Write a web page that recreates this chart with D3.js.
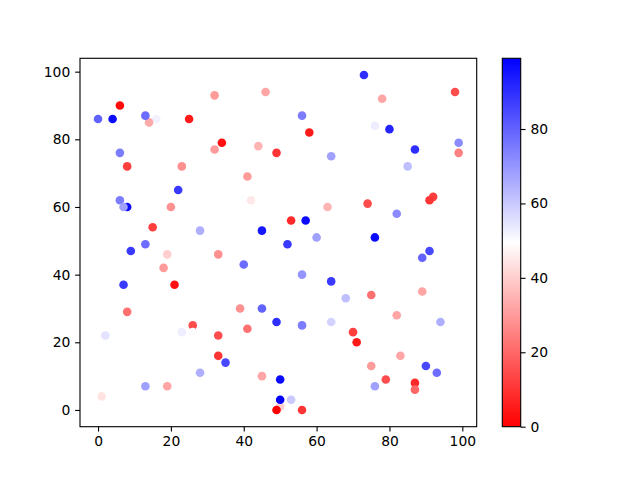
<!DOCTYPE html>
<html>
<head>
<meta charset="utf-8">
<script src="https://cdn.jsdelivr.net/npm/d3@7"></script>
<style>
  body { margin: 0; background: #fff; }
  text { font-family: "DejaVu Sans", sans-serif; }
</style>
</head>
<body>
<script>
  // scatter values
  const xs = [6, 0, 4, 16, 14, 13, 25, 32, 46, 34, 32, 44, 49, 6, 8, 23, 41, 22, 6, 8, 7, 20, 42, 15, 28, 45, 13,
    73, 78, 98, 56, 76, 80, 58, 64, 87, 99, 99, 85, 92, 91, 63, 74, 82, 53, 57, 60, 76, 52,
    9, 19, 33, 18, 40, 7, 21, 8, 39, 45, 49, 41, 26, 2, 23, 26, 33, 33, 35, 28, 45, 13, 19, 1, 50, 50, 50, 49,
    91, 89, 56, 64, 68, 75, 89, 82, 94, 56, 64, 70, 71, 83, 75, 90, 93, 79, 87, 87, 76, 53, 56];
  const ys = [90, 86, 86, 86, 85, 87, 86, 93, 94, 79, 77, 78, 76, 76, 72, 72, 69, 65, 62, 60, 60, 60, 62, 54, 53, 53, 49,
    99, 92, 94, 87, 84, 83, 82, 75, 77, 79, 76, 72, 63, 62, 60, 61, 58, 56, 56, 51, 51, 49,
    47, 46, 46, 42, 43, 37, 37, 29, 30, 30, 26, 24, 25, 22, 23, 23, 22, 16, 14, 11, 10, 7, 7, 4, 1, 9, 3, 0,
    47, 45, 40, 38, 33, 34, 35, 28, 26, 25, 26, 23, 20, 16, 13, 13, 11, 9, 8, 6, 7, 3, 0];
  const cs = [2, 80, 97, 52, 33, 78, 5, 30, 32, 3, 30, 35, 10, 75, 12, 28, 30, 88, 75, 97, 68, 28, 45, 12, 65, 95, 78,
    90, 32, 15, 75, 53, 92, 5, 68, 90, 72, 25, 62, 12, 10, 35, 15, 72, 8, 97, 68, 97, 88,
    88, 40, 28, 30, 78, 88, 3, 22, 28, 80, 90, 22, 15, 55, 53, 50, 15, 10, 85, 65, 32, 68, 32, 44, 40, 97, 99, 0,
    85, 80, 70, 88, 62, 22, 32, 32, 65, 75, 58, 12, 5, 32, 30, 85, 78, 15, 8, 20, 68, 60, 10];
  const xTicks = [0, 20, 40, 60, 80, 100];
  const yTicks = [0, 20, 40, 60, 80, 100];
  const cTicks = [0, 20, 40, 60, 80];

  const W = 640, H = 480;
  const pt = 100 / 72;
  const plot = { left: 80, right: 476.7, top: 58.3, bottom: 426.7 };
  const cbar = { left: 502.3, right: 520.7 };

  const svg = d3.select("body").append("svg")
    .attr("width", W).attr("height", H)
    .attr("viewBox", `0 0 ${W} ${H}`);
  svg.append("rect").attr("width", W).attr("height", H).attr("fill", "#fff");

  const cMin = d3.min(cs), cMax = d3.max(cs);
  // bwr_r: red -> white -> blue
  const color = d3.scaleLinear()
    .domain([cMin, (cMin + cMax) / 2, cMax])
    .range(["#ff0000", "#ffffff", "#0000ff"]);

  const pad = (99 - 0) * 0.05;
  const x = d3.scaleLinear().domain([0 - pad, 99 + pad]).range([plot.left, plot.right]);
  const y = d3.scaleLinear().domain([0 - pad, 99 + pad]).range([plot.bottom, plot.top]);

  const pts = xs.map((v, i) => ({ x: v, y: ys[i], c: cs[i] }));

  svg.append("g")
    .selectAll("circle")
    .data(pts)
    .enter()
    .append("circle")
    .attr("cx", (d) => x(d.x))
    .attr("cy", (d) => y(d.y))
    .attr("r", 3.1 * pt)
    .attr("fill", (d) => color(d.c));

  const styleAxis = (g) => {
    g.select(".domain").remove();
    g.selectAll(".tick line").attr("stroke", "#000").attr("stroke-width", 0.8 * pt);
    g.selectAll(".tick text").attr("fill", "#000").attr("font-size", 10 * pt).attr("font-family", "DejaVu Sans");
  };

  svg.append("g")
    .attr("transform", `translate(0,${plot.bottom})`)
    .call(d3.axisBottom(x).tickValues(xTicks).tickSize(3.5 * pt).tickPadding(3.5 * pt))
    .call(styleAxis);

  svg.append("g")
    .attr("transform", `translate(${plot.left},0)`)
    .call(d3.axisLeft(y).tickValues(yTicks).tickSize(3.5 * pt).tickPadding(3.5 * pt))
    .call(styleAxis);

  svg.append("rect")
    .attr("x", plot.left).attr("y", plot.top)
    .attr("width", plot.right - plot.left).attr("height", plot.bottom - plot.top)
    .attr("fill", "none").attr("stroke", "#000").attr("stroke-width", 0.8 * pt);

  // colorbar
  const grad = svg.append("defs").append("linearGradient")
    .attr("id", "cb").attr("x1", 0).attr("y1", 1).attr("x2", 0).attr("y2", 0);
  color.domain().forEach((v) => {
    grad.append("stop")
      .attr("offset", (v - cMin) / (cMax - cMin))
      .attr("stop-color", color(v));
  });

  const cy = d3.scaleLinear().domain([cMin, cMax]).range([plot.bottom, plot.top]);

  svg.append("rect")
    .attr("x", cbar.left).attr("y", plot.top)
    .attr("width", cbar.right - cbar.left).attr("height", plot.bottom - plot.top)
    .attr("fill", "url(#cb)")
    .attr("stroke", "#000").attr("stroke-width", 0.8 * pt);

  svg.append("g")
    .attr("transform", `translate(${cbar.right},0)`)
    .call(d3.axisRight(cy).tickValues(cTicks).tickSize(3.5 * pt).tickPadding(3.5 * pt))
    .call(styleAxis);
</script>
</body>
</html>
